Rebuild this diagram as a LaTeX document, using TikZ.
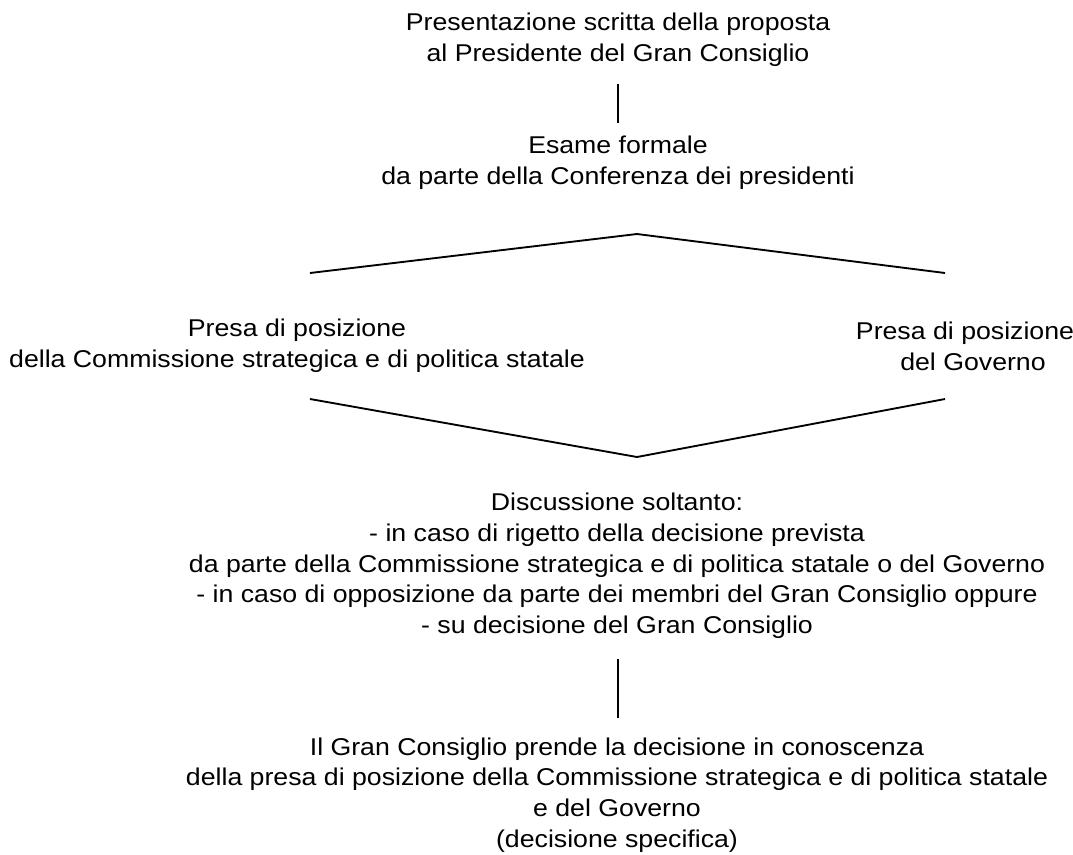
\documentclass[tikz,border=0pt]{standalone}
\usepackage{fontspec}
\setmainfont[FakeStretch=1.1]{Liberation Sans}
\begin{document}
\begin{tikzpicture}[x=0.75pt,y=-0.75pt,
  txt/.style={align=center,inner sep=0pt,font=\fontsize{18.2pt}{23pt}\selectfont},
  conn/.style={line width=1.4pt,line join=miter}]
\useasboundingbox (0,0) rectangle (1073,854);
\node[txt] (top) at (618,40) {Presentazione scritta della proposta\\al Presidente del Gran Consiglio};
\node[txt] (esame) at (618,163) {Esame formale\\da parte della Conferenza dei presidenti};
\node[txt] (left) at (297,346) {Presa di posizione\\della Commissione strategica e di politica statale};
\node[txt] (right) at (965,346) {Presa di posizione\\\hspace*{12pt}del Governo};
\node[txt] (disc) at (617,566) {Discussione soltanto:\\- in caso di rigetto della decisione prevista\\da parte della Commissione strategica e di politica statale o del Governo\\- in caso di opposizione da parte dei membri del Gran Consiglio oppure\\- su decisione del Gran Consiglio};
\node[txt] (final) at (617,795) {Il Gran Consiglio prende la decisione in conoscenza\\della presa di posizione della Commissione strategica e di politica statale\\e del Governo\\(decisione specifica)};
\coordinate (v1a) at (618,84);
\coordinate (v1b) at (618,123);
\coordinate (rl) at (310,273);
\coordinate (ra) at (637,234);
\coordinate (rr) at (945,273);
\coordinate (vl) at (310,399);
\coordinate (vb) at (637,457);
\coordinate (vr) at (945,399);
\coordinate (v2a) at (618,659);
\coordinate (v2b) at (618,718);
\draw[conn] (v1a) -- (v1b);
\draw[conn] (rl) -- (ra) -- (rr);
\draw[conn] (vl) -- (vb) -- (vr);
\draw[conn] (v2a) -- (v2b);
\end{tikzpicture}
\end{document}
